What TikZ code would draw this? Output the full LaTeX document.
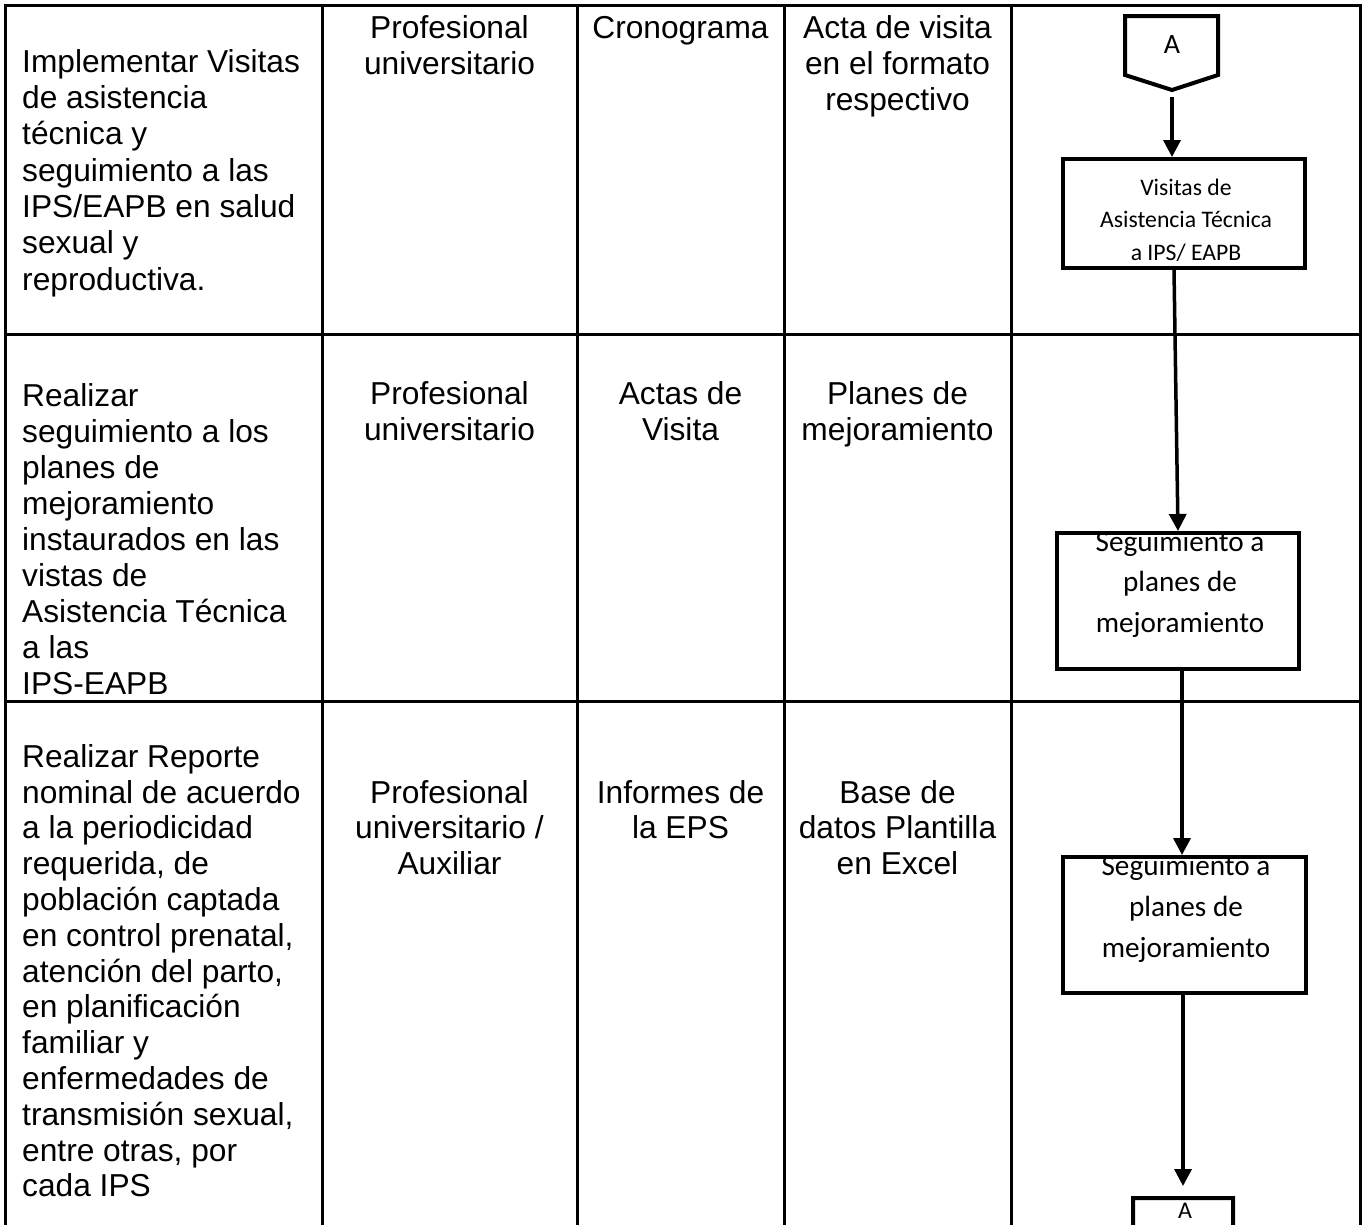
\documentclass[tikz,border=0pt]{standalone}
\usepackage{fontspec}
\setmainfont{Liberation Sans}
\newfontfamily\calib{Carlito}
\usetikzlibrary{arrows.meta}
\tikzset{
  grid/.style={line width=3pt, line cap=rect},
  cell/.style={inner sep=0pt, anchor=north, align=center, font=\fontsize{31.7}{36}\selectfont},
  cellL/.style={cell, anchor=north west, align=left},
  fbox/.style={draw, line width=4pt, inner sep=0pt, line join=miter},
  ftext/.style={inner sep=0pt, anchor=north, align=center},
  conn/.style={line width=4pt, line join=miter},
  arr/.style={line width=3.5pt, -{Triangle[width=17pt,length=17pt]}},
}
\newcommand{\fl}{\rule{0pt}{26pt}}
\begin{document}
\begin{tikzpicture}[x=1pt,y=-1pt]
\useasboundingbox (0,0) rectangle (1364,1224);
\clip (0,0) rectangle (1364,1224);
% table grid
\draw[grid] (5,5) -- (1360,5);
\draw[grid] (5,334) -- (1360,334);
\draw[grid] (5,701) -- (1360,701);
\foreach \x in {5,322,577,784,1011,1360}{\draw[grid] (\x,5) -- (\x,1240);}
% row 1
\node[cellL, font=\fontsize{31.7}{36.3}\selectfont] (t11) at (22,46) {\fl Implementar Visitas\\de asistencia\\técnica y\\seguimiento a las\\IPS/EAPB en salud\\sexual y\\reproductiva.};
\node[cell] (t12) at (449.5,12) {\fl Profesional\\universitario};
\node[cell] (t13) at (680.5,12) {\fl Cronograma};
\node[cell] (t14) at (897.5,12) {\fl Acta de visita\\en el formato\\respectivo};
% row 2
\node[cellL, font=\fontsize{31.7}{36}\selectfont] (t21) at (22,380) {\fl Realizar\\seguimiento a los\\planes de\\mejoramiento\\instaurados en las\\vistas de\\Asistencia Técnica\\a las\\IPS-EAPB};
\node[cell] (t22) at (449.5,378) {\fl Profesional\\universitario};
\node[cell] (t23) at (680.5,378) {\fl Actas de\\Visita};
\node[cell] (t24) at (897.5,378) {\fl Planes de\\mejoramiento};
% row 3
\node[cellL, font=\fontsize{31.7}{35.8}\selectfont] (t31) at (22,741) {\fl Realizar Reporte\\nominal de acuerdo\\a la periodicidad\\requerida, de\\población captada\\en control prenatal,\\atención del parto,\\en planificación\\familiar y\\enfermedades de\\transmisión sexual,\\entre otras, por\\cada IPS};
\node[cell, font=\fontsize{31.7}{35.5}\selectfont] (t32) at (449.5,777) {\fl Profesional\\universitario /\\Auxiliar};
\node[cell, font=\fontsize{31.7}{35.5}\selectfont] (t33) at (680.5,777) {\fl Informes de\\la EPS};
\node[cell, font=\fontsize{31.7}{35.5}\selectfont] (t34) at (897.5,777) {\fl Base de\\datos Plantilla\\en Excel};
% flowchart
\draw[conn] (1125,16) -- (1218,16) -- (1218,75) -- (1172,90) -- (1125,75) -- cycle;
\node[anchor=base, inner sep=0pt, font=\calib\fontsize{28}{30}\selectfont] (a1) at (1172,53) {A};
\coordinate (a1out) at (1172,97);
\node[fbox, minimum width=242pt, minimum height=109pt] (b1) at (1184,213.5) {};
\node[ftext, font=\calib\fontsize{23.7}{32.5}\selectfont] (b1t) at (1186,175) {\rule{0pt}{20pt}Visitas de\\Asistencia Técnica\\a IPS/ EAPB};
\node[fbox, minimum width=242pt, minimum height=136pt] (b2) at (1178,601) {};
\begin{scope}
\clip (b2.north west) rectangle (b2.south east);
\node[ftext, font=\calib\fontsize{29.2}{40.5}\selectfont] (b2t) at (1180,527) {\rule{0pt}{24pt}Seguimiento a\\planes de\\mejoramiento};
\end{scope}
\node[fbox, minimum width=243pt, minimum height=136pt] (b3) at (1184.5,925) {};
\begin{scope}
\clip (b3.north west) rectangle (b3.south east);
\node[ftext, font=\calib\fontsize{29.2}{41}\selectfont] (b3t) at (1186,851) {\rule{0pt}{24pt}Seguimiento a\\planes de\\mejoramiento};
\end{scope}
\draw[conn] (1133,1198) -- (1233,1198) -- (1233,1262) -- (1183,1278) -- (1133,1262) -- cycle;
\node[anchor=base, inner sep=0pt, font=\calib\fontsize{24}{26}\selectfont] (a2) at (1185,1218) {A};
\coordinate (a2in) at (1183,1186);
% connectors
\draw[arr] (a1out) -- (a1out |- b1.north);
\draw[arr] ([xshift=-10pt]b1.south) -- (b2.north);
\draw[arr] ([xshift=4pt]b2.south) -- ([xshift=4pt]b2.south |- b3.north);
\draw[arr] ([xshift=-1.5pt]b3.south) -- (a2in);
\end{tikzpicture}
\end{document}
